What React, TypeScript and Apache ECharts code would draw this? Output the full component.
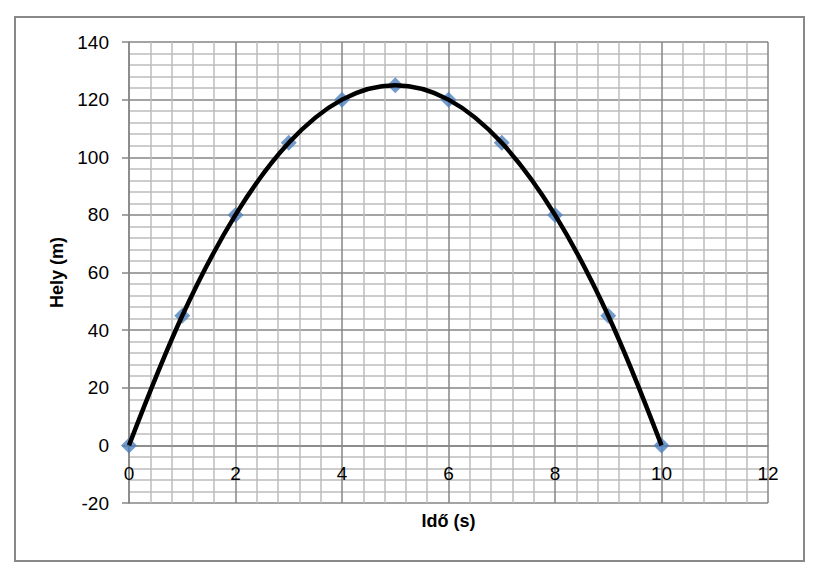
import * as echarts from 'echarts';
import { useEffect, useRef } from 'react';

// time (s) and position (m)
const times = [0, 1, 2, 3, 4, 5, 6, 7, 8, 9, 10];
const positions = [0, 45, 80, 105, 120, 125, 120, 105, 80, 45, 0];

const xName = 'Idő (s)';
const yName = 'Hely (m)';

const FONT = '"Liberation Sans", Arial, sans-serif';
const MAJOR = '#868686';
const MINOR = '#bcbcbc';

const GRID_TOP = 42;
const GRID_BOTTOM = 76;
const Y_MIN = -20;
const Y_MAX = 140;

export default function App() {
  const elRef = useRef<HTMLDivElement | null>(null);

  useEffect(() => {
    if (!elRef.current) return;
    const chart = echarts.init(elRef.current, undefined, { renderer: 'svg' });

    const points = times.map((t, i) => [t, positions[i]]);

    // the x axis sits on y = 0, so lift it from the bottom edge by that much
    const plotH = 579 - GRID_TOP - GRID_BOTTOM;
    const zeroLift = (plotH * (0 - Y_MIN)) / (Y_MAX - Y_MIN);

    chart.setOption({
      animation: false,
      backgroundColor: '#fff',
      textStyle: { fontFamily: FONT },
      grid: {
        left: 129,
        top: GRID_TOP,
        right: 54,
        bottom: GRID_BOTTOM,
        containLabel: false,
        outerBoundsMode: 'none'
      },
      graphic: [
        {
          type: 'rect',
          shape: { x: 15, y: 17, width: 789, height: 544 },
          style: { fill: 'none', stroke: '#888', lineWidth: 2 },
          silent: true
        }
      ],
      xAxis: {
        type: 'value',
        min: 0,
        max: 12,
        interval: 2,
        offset: -zeroLift,
        name: xName,
        nameLocation: 'middle',
        nameGap: 67,
        nameTextStyle: { fontSize: 18, fontWeight: 'bold', color: '#000', fontFamily: FONT },
        axisLine: { show: true, onZero: false, lineStyle: { color: MAJOR, width: 1.5 } },
        axisTick: { show: false },
        axisLabel: { margin: 19, fontSize: 19, color: '#000', fontFamily: FONT },
        splitLine: { show: true, lineStyle: { color: MAJOR, width: 1.5 } },
        minorTick: { show: false, splitNumber: 5 },
        minorSplitLine: { show: true, lineStyle: { color: MINOR, width: 1.5 } }
      },
      yAxis: {
        type: 'value',
        min: Y_MIN,
        max: Y_MAX,
        interval: 20,
        name: yName,
        nameLocation: 'middle',
        nameGap: 62,
        nameTextStyle: { fontSize: 18, fontWeight: 'bold', color: '#000', fontFamily: FONT },
        axisLine: { show: true, onZero: false, lineStyle: { color: MAJOR, width: 1.5 } },
        axisTick: { show: true, length: 7, lineStyle: { color: MAJOR, width: 1.5 } },
        axisLabel: { margin: 20, fontSize: 19, color: '#000', fontFamily: FONT },
        splitLine: { show: true, lineStyle: { color: MAJOR, width: 1.5 } },
        minorTick: { show: false, splitNumber: 5 },
        minorSplitLine: { show: true, lineStyle: { color: MINOR, width: 1.5 } }
      },
      series: [
        {
          type: 'scatter',
          data: points,
          symbol: 'diamond',
          symbolSize: 16,
          itemStyle: { color: '#4f81bd' },
          z: 2
        },
        {
          type: 'line',
          data: points,
          smooth: 0.35,
          symbol: 'none',
          lineStyle: { color: '#000', width: 4.5 },
          z: 3
        }
      ]
    });

    return () => chart.dispose();
  }, []);

  return (
    <div
      ref={elRef}
      style={{ position: 'absolute', left: 0, top: 0, width: 822, height: 579 }}
    />
  );
}
